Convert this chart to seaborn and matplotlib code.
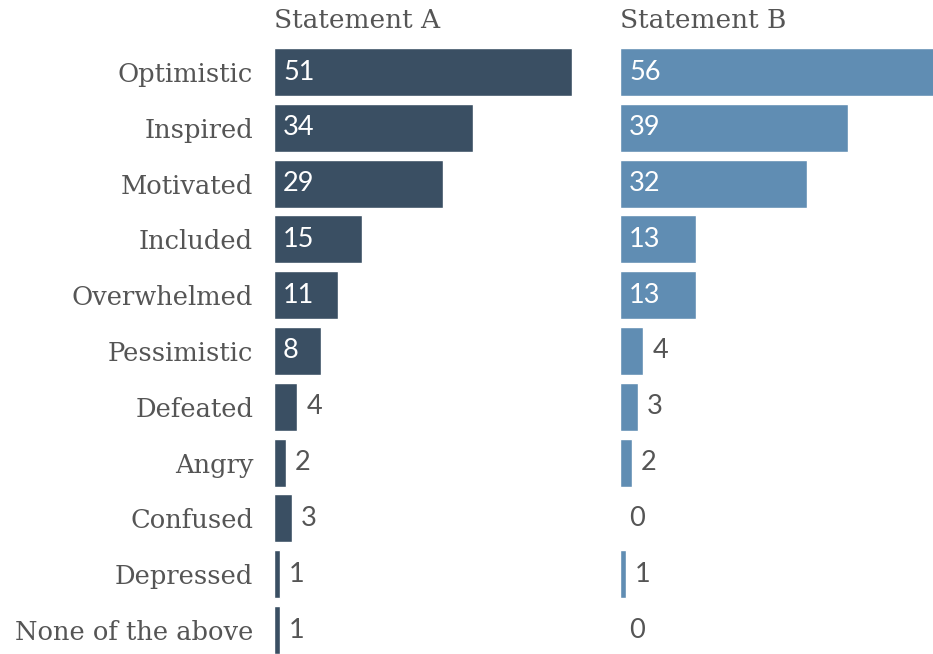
import matplotlib
matplotlib.use("Agg")
import matplotlib.pyplot as plt
import seaborn as sns
import pandas as pd

# Survey responses: share of respondents choosing each feeling
feelings = ["Optimistic", "Inspired", "Motivated", "Included", "Overwhelmed",
            "Pessimistic", "Defeated", "Angry", "Confused", "Depressed",
            "None of the above"]
statement_a = [51, 34, 29, 15, 11, 8, 4, 2, 3, 1, 1]
statement_b = [56, 39, 32, 13, 13, 4, 3, 2, 0, 1, 0]
panel_titles = ["Statement A", "Statement B"]

dark_blue = "#3a4f63"
steel_blue = "#608db3"
text_gray = "#555555"

sns.set_theme(style="white")
label_font = ["DejaVu Serif"]
number_font = ["Lato", "DejaVu Sans"]

W, H = 933, 654
fig = plt.figure(figsize=(W / 100, H / 100), dpi=100)

px_per_unit = 5.84
top_px, bottom_px = 44.1, 657.9
ax_bottom = 1 - bottom_px / H
ax_height = (bottom_px - top_px) / H

panels = [
    (274, 600, statement_a, dark_blue, panel_titles[0]),
    (620, 933, statement_b, steel_blue, panel_titles[1]),
]

for i, (x0, x1, values, color, title) in enumerate(panels):
    ax = fig.add_axes([x0 / W, ax_bottom, (x1 - x0) / W, ax_height])
    df = pd.DataFrame({"feeling": feelings, "value": values})
    sns.barplot(data=df, x="value", y="feeling", color=color, width=0.86,
                saturation=1, ax=ax, orient="h")
    ax.set_xlim(0, (x1 - x0) / px_per_unit)
    ax.set_ylim(len(feelings) - 0.5, -0.5)
    ax.set_xlabel("")
    ax.set_ylabel("")
    ax.set_xticks([])
    for s in ax.spines.values():
        s.set_visible(False)
    if i == 0:
        ax.set_yticks(range(len(feelings)))
        ax.set_yticklabels(feelings, family=label_font, fontsize=18.5,
                           color=text_gray)
        ax.tick_params(axis="y", length=0, pad=15)
    else:
        ax.set_yticks([])
    fig.text(x0 / W, 1 - 21 / H, title, family=label_font, fontsize=19,
             color=text_gray, ha="left", va="center")

    pad = 9 / px_per_unit
    for j, v in enumerate(values):
        if v >= 8:
            ax.text(pad, j, f"{v}", color="white", family=number_font,
                    fontsize=19.5, ha="left", va="center")
        else:
            ax.text(v + pad, j, f"{v}", color=text_gray,
                    family=number_font, fontsize=19.5, ha="left", va="center")

fig.savefig("out.png", dpi=100, facecolor="white")
